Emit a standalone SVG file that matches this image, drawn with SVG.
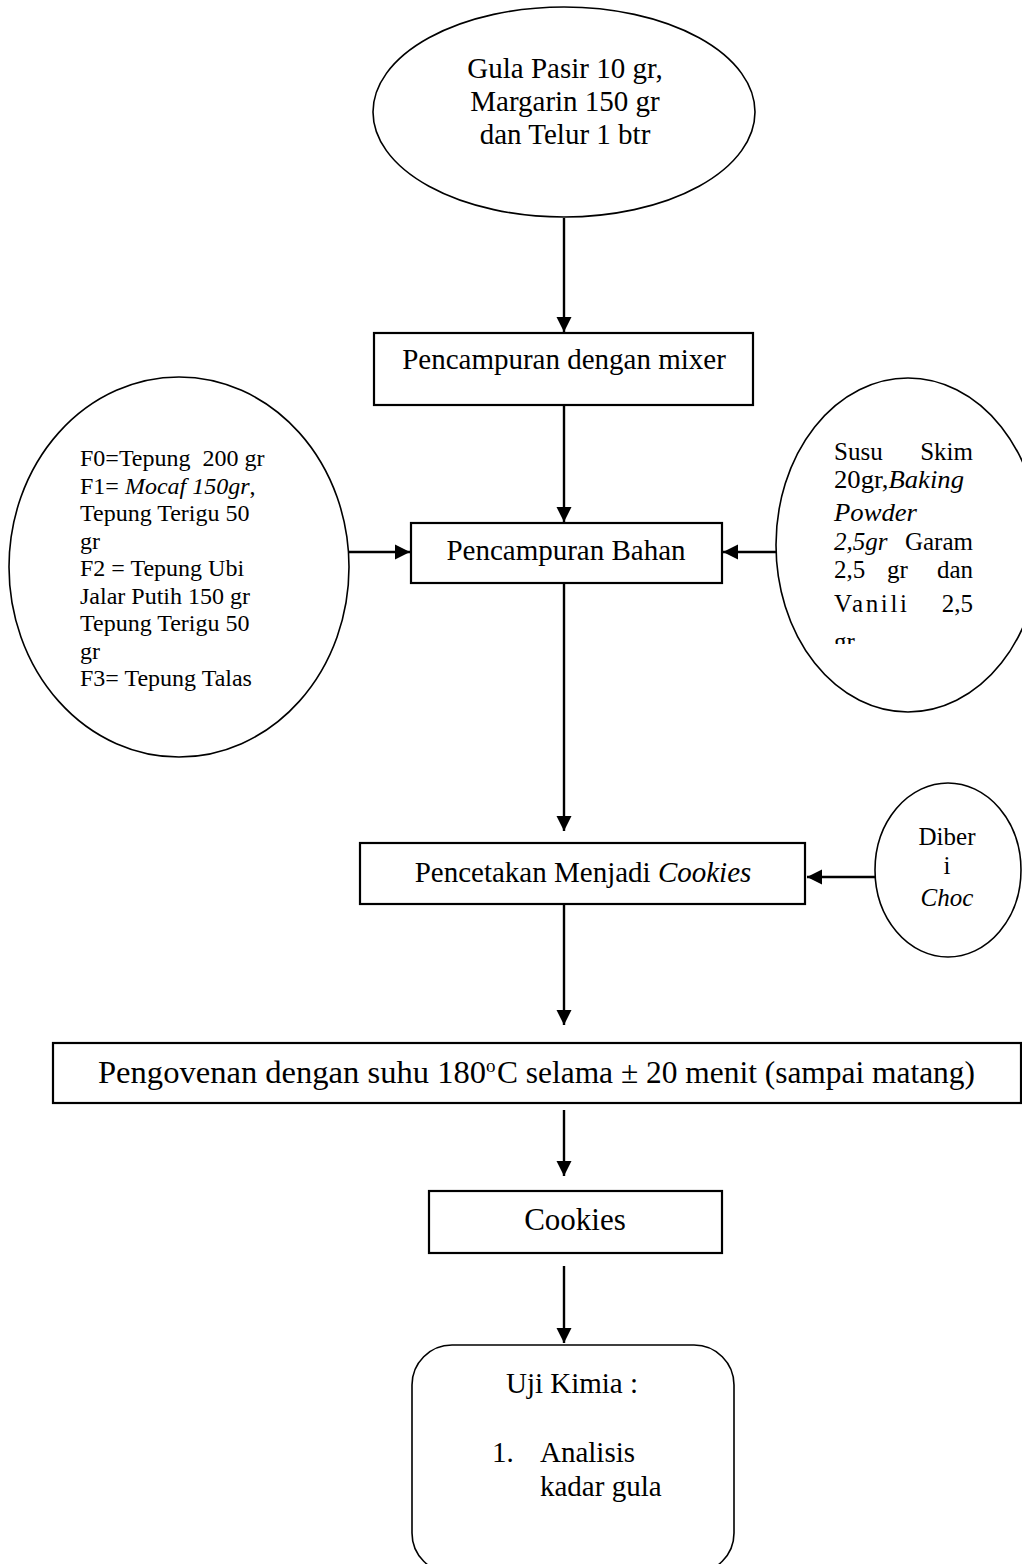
<svg xmlns="http://www.w3.org/2000/svg" width="1022" height="1564" viewBox="0 0 1022 1564">
<style>
  text { font-family: "Liberation Serif", "Times New Roman", serif; fill: #000; }
  .shape { fill: #fff; stroke: #000; stroke-width: 1.6; }
  .box { fill: #fff; stroke: #000; stroke-width: 2.2; }
  .conn { stroke: #000; stroke-width: 2.4; fill: none; marker-end: url(#arrow); }
  .it { font-style: italic; }
  .c { text-anchor: middle; }
  .e { text-anchor: end; }
</style>
<defs>
  <marker id="arrow" markerUnits="userSpaceOnUse" markerWidth="16" markerHeight="16" viewBox="0 0 16 16" refX="15" refY="8" orient="auto">
    <path d="M0,0.5 L15,8 L0,15.5 Z" fill="#000"/>
  </marker>
  <clipPath id="rclip"><rect x="0" y="0" width="1022" height="644"/></clipPath>
</defs>

<g id="connectors">
  <line class="conn" x1="564" y1="218" x2="564" y2="332"/>
  <line class="conn" x1="564" y1="405" x2="564" y2="522"/>
  <line class="conn" x1="564" y1="583" x2="564" y2="831"/>
  <line class="conn" x1="564" y1="904" x2="564" y2="1025"/>
  <line class="conn" x1="564" y1="1110" x2="564" y2="1176"/>
  <line class="conn" x1="564" y1="1266" x2="564" y2="1343"/>
  <line class="conn" x1="348" y1="552" x2="410" y2="552"/>
  <line class="conn" x1="776" y1="552" x2="723" y2="552"/>
  <line class="conn" x1="875" y1="877" x2="807" y2="877"/>
</g>

<g id="node-bahan-awal">
  <ellipse class="shape" cx="564" cy="112" rx="191" ry="105"/>
  <text class="c" x="565" y="78" font-size="29">Gula Pasir 10 gr,</text>
  <text class="c" x="565" y="111" font-size="29">Margarin 150 gr</text>
  <text class="c" x="565" y="144" font-size="29">dan Telur 1 btr</text>
</g>

<g id="node-mixer">
  <rect class="box" x="374" y="333" width="379" height="72"/>
  <text class="c" x="564" y="369" font-size="29">Pencampuran dengan mixer</text>
</g>

<g id="node-tepung">
  <ellipse class="shape" cx="179" cy="567" rx="170" ry="190"/>
  <g font-size="24">
    <text x="80" y="466" xml:space="preserve">F0=Tepung  200 gr</text>
    <text x="80" y="493.5">F1= <tspan class="it">Mocaf 150gr</tspan>,</text>
    <text x="80" y="521">Tepung Terigu 50</text>
    <text x="80" y="548.5">gr</text>
    <text x="80" y="576">F2 = Tepung Ubi</text>
    <text x="80" y="603.5">Jalar Putih 150 gr</text>
    <text x="80" y="631">Tepung Terigu 50</text>
    <text x="80" y="658.5">gr</text>
    <text x="80" y="686">F3= Tepung Talas</text>
  </g>
</g>

<g id="node-bahan">
  <rect class="box" x="411" y="523" width="311" height="60"/>
  <text class="c" x="566" y="560" font-size="29">Pencampuran Bahan</text>
</g>

<g id="node-susu">
  <ellipse class="shape" cx="908" cy="545" rx="132" ry="167"/>
  <g font-size="25" clip-path="url(#rclip)">
    <text x="834" y="460">Susu</text>
    <text class="e" x="973" y="460">Skim</text>
    <text x="834" y="488" textLength="130" lengthAdjust="spacingAndGlyphs">20gr,<tspan class="it">Baking</tspan></text>
    <text class="it" x="834" y="521" textLength="83" lengthAdjust="spacingAndGlyphs">Powder</text>
    <text class="it" x="834" y="550">2,5gr</text>
    <text class="e" x="973" y="550">Garam</text>
    <text x="834" y="578">2,5</text>
    <text x="887" y="578">gr</text>
    <text class="e" x="973" y="578">dan</text>
    <text x="834" y="612" textLength="73" lengthAdjust="spacing">Vanili</text>
    <text class="e" x="973" y="612">2,5</text>
    <text x="834" y="650">gr</text>
  </g>
</g>

<g id="node-pencetakan">
  <rect class="box" x="360" y="843" width="445" height="61"/>
  <text class="c" x="583" y="882" font-size="29">Pencetakan Menjadi <tspan class="it">Cookies</tspan></text>
</g>

<g id="node-choc">
  <ellipse class="shape" cx="948" cy="870" rx="73" ry="87"/>
  <text class="c" x="947" y="845" font-size="25">Diber</text>
  <text class="c" x="947" y="874" font-size="25">i</text>
  <text class="c it" x="947" y="906" font-size="25">Choc</text>
</g>

<g id="node-oven">
  <rect class="box" x="53" y="1043" width="968" height="60"/>
  <text x="98" y="1083" font-size="32" textLength="388" lengthAdjust="spacingAndGlyphs">Pengovenan dengan suhu 180</text>
  <text x="486" y="1072" font-size="19">o</text>
  <text x="497" y="1083" font-size="32" textLength="478" lengthAdjust="spacingAndGlyphs">C selama ± 20 menit (sampai matang)</text>
</g>

<g id="node-cookies">
  <rect class="box" x="429" y="1191" width="293" height="62"/>
  <text class="c" x="575" y="1230" font-size="31">Cookies</text>
</g>

<g id="node-uji">
  <rect class="shape" x="412" y="1345" width="322" height="228" rx="40" ry="40"/>
  <text class="c" x="572" y="1393" font-size="29">Uji Kimia :</text>
  <text x="492" y="1462" font-size="29">1.</text>
  <text x="540" y="1462" font-size="29">Analisis</text>
  <text x="540" y="1496" font-size="29">kadar gula</text>
</g>
</svg>
